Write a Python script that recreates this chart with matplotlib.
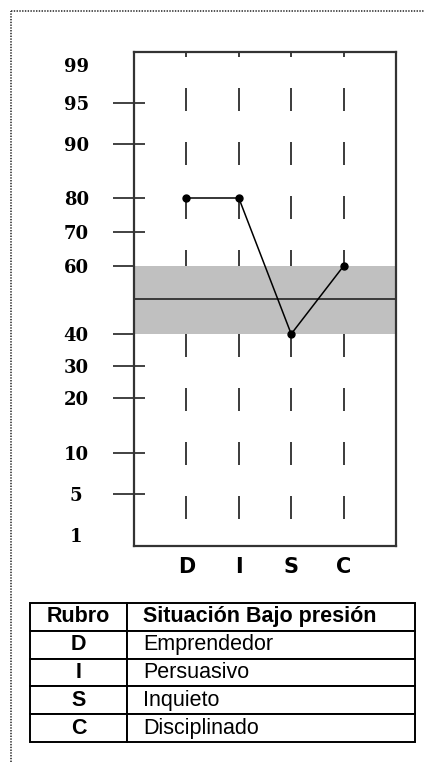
import numpy as np
import matplotlib
matplotlib.use("Agg")
import matplotlib.pyplot as plt
from matplotlib.lines import Line2D
from matplotlib.transforms import blended_transform_factory

# ---- data ----
categories = ["D", "I", "S", "C"]
values = [80, 80, 40, 60]
tick_levels = [1, 5, 10, 20, 30, 40, 60, 70, 80, 90, 95, 99]
tick_labels = ["1", "5", "10", "20", "30", "40", "60", "70", "80", "90", "95", "99"]
band_low, band_high, mid_level = 40, 60, 50
table_header = ["Rubro", "Situación Bajo presión"]
table_codes = ["D", "I", "S", "C"]
table_desc = ["Emprendedor", "Persuasivo", "Inquieto", "Disciplinado"]

# non-linear percentile scale (level -> vertical position in px above axis bottom)
scale_levels = [0, 1, 5, 10, 20, 30, 40, 50, 60, 70, 80, 90, 95, 99, 100]
scale_pos = [0, 11, 52, 93, 148, 180, 212, 247, 280, 314, 348, 402, 443, 481, 494]

def fwd(v):
    return np.interp(v, scale_levels, scale_pos)

def inv(p):
    return np.interp(p, scale_pos, scale_levels)

plt.rcParams['lines.scale_dashes'] = False
W, H = 424, 762
px = 0.72
fig = plt.figure(figsize=(W / 100, H / 100), dpi=100)

ax = fig.add_axes([134 / W, (H - 546) / H, 262 / W, 494 / H])
ax.set_yscale('function', functions=(fwd, inv))
ax.set_ylim(0, 100)
ax.set_xlim(0, len(categories) + 1)
xs = np.arange(1, len(categories) + 1)

ax.axhspan(band_low, band_high, color='#c0c0c0', lw=0, zorder=1)
ax.axhline(mid_level, color='#3a3a3a', lw=1.4, zorder=2)

dash_bot = (0, (23 * px, 31 * px))
dash_top = (7 * px, (23 * px, 31 * px))
ax.vlines(xs, band_low, 0, colors='#404040', lw=2 * px, linestyles=[dash_bot], zorder=2)
ax.vlines(xs, band_high, 100, colors='#404040', lw=2 * px, linestyles=[dash_top], zorder=2)

ax.plot(xs, values, color='black', lw=1.1, marker='o', ms=5, zorder=4)

for s in ax.spines.values():
    s.set_color('#333333')
    s.set_linewidth(1.6)

ax.set_xticks(xs)
ax.set_xticklabels(categories, fontfamily='DejaVu Sans', fontweight='bold', fontsize=15)
ax.tick_params(axis='x', length=0, pad=8)

ax.set_yticks(tick_levels)
ax.set_yticklabels(tick_labels, fontfamily='DejaVu Serif', fontweight='bold', fontsize=13, ha='center')
ax.tick_params(axis='y', which='major', direction='out', length=21 * px, width=1.3,
               color='#333333', pad=26.5)
for t, lv in zip(ax.yaxis.get_major_ticks(), tick_levels):
    if lv in (1, 99):
        t.tick1line.set_visible(False)

# inner tick stubs
inner = [lv for lv in tick_levels if lv not in (1, 99, band_low, band_high)]
trans = blended_transform_factory(ax.transAxes, ax.transData)
ax.plot([0] * len(inner), inner, linestyle='none', marker=1, markersize=11 * px,
        markeredgewidth=1.3, color='#333333', transform=trans, clip_on=False, zorder=3)

# dotted border
fig.add_artist(Line2D([11 / W, 11 / W], [0, 1 - 11 / H], color='#333333', lw=1.2,
                      linestyle=(0, (1, 1)), transform=fig.transFigure))
fig.add_artist(Line2D([11 / W, 1], [1 - 11 / H, 1 - 11 / H], color='#333333', lw=1.2,
                      linestyle=(0, (1, 1)), transform=fig.transFigure))

# table
tax = fig.add_axes([30 / W, (H - 742) / H, 385 / W, 139 / H])
tax.axis('off')
cell_text = [table_header] + [[c, d] for c, d in zip(table_codes, table_desc)]
tbl = tax.table(cellText=cell_text, bbox=[0, 0, 1, 1], colWidths=[97 / 385, 288 / 385],
                cellLoc='center')
tbl.auto_set_font_size(False)
for (r, c), cell in tbl.get_celld().items():
    cell.set_edgecolor('black')
    cell.set_linewidth(1.4)
    txt = cell.get_text()
    txt.set_fontfamily('Liberation Sans')
    txt.set_fontsize(15.5)
    if c == 1:
        cell._loc = 'left'
        cell.PAD = 16 / 288
        txt.set_ha('left')
    if r == 0 or c == 0:
        txt.set_fontweight('bold')

fig.savefig('out.png', dpi=100)
